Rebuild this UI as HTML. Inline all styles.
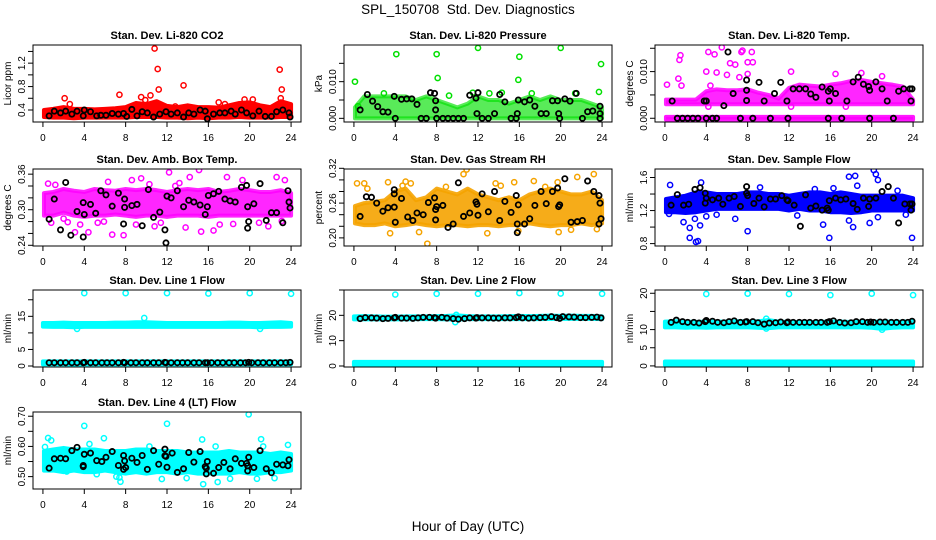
<!DOCTYPE html>
<html><head><meta charset="utf-8"><title>SPL_150708 Std. Dev. Diagnostics</title>
<style>
html,body{margin:0;padding:0;background:#fff;}
svg{display:block;font-family:"Liberation Sans",Arial,sans-serif;}
</style></head>
<body>
<svg id="chart" width="936" height="540" viewBox="0 0 936 540" xmlns="http://www.w3.org/2000/svg">
<rect width="936" height="540" fill="#fff"/>
<text x="468" y="14" font-size="13.5" text-anchor="middle">SPL_150708&#160; Std. Dev. Diagnostics</text>
<text x="468" y="531" font-size="13.5" text-anchor="middle">Hour of Day (UTC)</text>
</svg>
<script>
const hours=[0,1,2,3,4,5,6,7,8,9,10,11,12,13,14,15,16,17,18,19,20,21,22,23,24];
const xTicks=[0,4,8,12,16,20,24];

// CO2
const co2Lo=[0.28,0.27,0.27,0.26,0.27,0.27,0.27,0.27,0.27,0.28,0.28,0.28,0.27,0.27,0.26,0.27,0.26,0.27,0.27,0.28,0.27,0.27,0.27,0.28,0.28];
const co2Hi=[0.40,0.42,0.45,0.42,0.42,0.41,0.42,0.43,0.45,0.52,0.50,0.55,0.47,0.45,0.48,0.45,0.45,0.44,0.48,0.52,0.53,0.48,0.45,0.55,0.50];
const co2PtX=[2.1,2.6,7.4,9.5,10.4,10.8,11.1,11.2,13.6,17,17.6,20.3,22.9,23.1,23,19.5,9.9,12.8];
const co2PtY=[0.6,0.5,0.66,0.62,0.65,1.45,1.1,0.75,0.82,0.53,0.5,0.58,1.09,0.75,0.6,0.58,0.57,0.46];
const co2BlkX=[0.6,1.1,1.7,2.2,2.8,3.3,3.9,4.0,4.6,5.2,5.6,6.1,6.7,7.3,7.8,8.1,8.6,9.1,9.6,10.1,10.7,11.3,11.9,12.4,13.0,13.6,14.1,14.6,15.2,15.7,15.9,16.5,17.1,17.6,18.2,18.6,19.2,19.7,20.3,20.9,21.5,22.1,22.6,23.2,23.8,23.9];
const co2BlkY=[0.30,0.38,0.35,0.38,0.33,0.38,0.30,0.40,0.37,0.30,0.31,0.31,0.34,0.33,0.34,0.29,0.41,0.30,0.37,0.35,0.28,0.33,0.37,0.33,0.35,0.28,0.35,0.33,0.40,0.38,0.25,0.33,0.35,0.35,0.38,0.33,0.40,0.35,0.30,0.38,0.29,0.29,0.37,0.40,0.35,0.28];
const co2Ticks=[0.4,0.6,0.8,1.0,1.2,1.4];
const co2Labels=["0.4","","0.8","","1.2",""];

// Pressure
const presLo=[0,0,0,0,0,0,0,0,0,0,0,0,0,0,0,0,0,0,0,0,0,0,0,0,0];
const presHi=[0.003,0.006,0.006,0.006,0.006,0.006,0.005,0.006,0.005,0.004,0.003,0.004,0.006,0.005,0.005,0.004,0.005,0.006,0.005,0.006,0.005,0.005,0.005,0.004,0.003];
const presPtX=[0.1,4.1,8,8.1,12,16,15.9,20,23.9,23.7,14.3,11.5,0.4,2.9,9.2,13.1,17.2,21.4];
const presPtY=[0.010,0.0175,0.0175,0.011,0.0192,0.0168,0.0105,0.0192,0.0148,0.0072,0.007,0.007,0.0033,0.0068,0.0062,0.0068,0.0068,0.0068];
const presBlkX=[0.6,1.3,1.8,2.3,2.8,3.3,3.9,4,4.6,5.1,5.6,6.1,6.5,7,7.4,7.8,7.9,7.9,8,8.6,9.1,9.6,10.1,10.6,11.2,11.8,11.9,12,12.4,13,13.6,14.1,14.6,15.2,15.7,15.8,15.9,16.5,17,17.5,18.1,18.6,19.2,19.7,19.8,19.9,20.4,20.9,21.5,22.1,22.6,23.1,23.8,23.8,23.8];
const presBlkY=[0.0023,0.0065,0.0047,0.0032,0.0018,0.0017,0.006,0,0.0052,0.0053,0.0053,0.0038,0,0,0.007,0.0068,0.0048,0.0023,0,0,0,0,0,0,0.0063,0.0055,0.0013,0.007,0,0,0.0013,0.0065,0.0045,0,0,0.0013,0.005,0.0045,0.005,0.0033,0.0013,0.0013,0.0048,0.0048,0.0013,0,0.0053,0.0047,0.0068,0,0.0018,0.002,0.0033,0.0013,0];
const presTicks=[0,0.005,0.010,0.015];
const presLabels=["0.000","","0.010",""];

// Li-820 Temp
const tempLo=[0.003,0.003,0.003,0.003,0.003,0.003,0.003,0.003,0.003,0.003,0.003,0.003,0.003,0.003,0.003,0.003,0.003,0.003,0.003,0.003,0.003,0.003,0.003,0.003,0.003];
const tempHi=[0.004,0.004,0.004,0.004,0.0058,0.0062,0.006,0.006,0.0062,0.0055,0.005,0.0042,0.0065,0.0072,0.007,0.0068,0.0072,0.0075,0.008,0.0082,0.0078,0.0075,0.0072,0.0068,0.004];
const temp0Lo=[-0.0003,-0.0003,-0.0003,-0.0003,-0.0003,-0.0003,-0.0003,-0.0003,-0.0003,-0.0003,-0.0003,-0.0003,-0.0003,-0.0003,-0.0003,-0.0003,-0.0003,-0.0003,-0.0003,-0.0003,-0.0003,-0.0003,-0.0003,-0.0003,-0.0003];
const temp0Hi=[0.0003,0.0003,0.0003,0.0003,0.0003,0.0003,0.0003,0.0003,0.0003,0.0003,0.0003,0.0003,0.0003,0.0003,0.0003,0.0003,0.0003,0.0003,0.0003,0.0003,0.0003,0.0003,0.0003,0.0003,0.0003];
const tempPtX=[1.5,1.4,1.3,0.2,1.6,4.2,4.8,5.5,6.0,6.3,6.8,7.2,7.4,7.5,8.0,8.0,8.4,8.5,4.0,5.0,4.4,12.2,16.5,21,19,4.2,12.2,17.5];
const tempPtY=[0.0135,0.0125,0.0085,0.0072,0.007,0.0142,0.0137,0.0152,0.0093,0.0118,0.0115,0.0088,0.0142,0.0145,0.012,0.0095,0.0142,0.012,0.010,0.0098,0.007,0.010,0.0095,0.009,0.0097,0.0025,0.0025,0.0025];
const tempBlkX=[0.7,1.2,1.7,2.2,2.7,3.2,3.8,4.0,4.0,4.6,5.0,5.7,6.1,6.6,7.3,7.9,7.9,7.9,8.5,9.1,9.6,10.2,10.6,11.2,11.8,11.9,12.4,13,13.6,14.1,14.6,15.2,15.8,15.9,16,15.8,16.5,17.1,17.6,18.2,18.7,19.2,19.7,19.8,19.8,20.4,21,21.5,22.1,22.6,23.1,23.7,23.8,23.9];
const tempBlkY=[0.0037,0,0,0,0,0,0.0037,0.0037,0,0,0,0.0027,0.0142,0.0053,0,0.0082,0.006,0.0038,0,0.0077,0.0037,0,0.0053,0.0077,0.0037,0,0.0063,0.0063,0.0063,0.0052,0.0045,0.0067,0.0058,0.0037,0.0063,0,0.0053,0,0.0037,0.0078,0.0088,0.0073,0.0068,0.006,0,0.0078,0.0063,0.0037,0,0.0058,0.0063,0.0063,0.0037,0.0063];
const tempTicks=[0,0.005,0.010,0.015];
const tempLabels=["0.000","","0.010",""];

// Amb Box Temp
const ambLo=[0.29,0.29,0.295,0.29,0.288,0.29,0.29,0.292,0.29,0.288,0.29,0.29,0.288,0.29,0.29,0.29,0.288,0.29,0.29,0.29,0.29,0.29,0.29,0.29,0.29];
const ambHi=[0.328,0.33,0.335,0.332,0.33,0.335,0.333,0.332,0.335,0.333,0.335,0.333,0.33,0.333,0.335,0.333,0.335,0.33,0.332,0.335,0.333,0.33,0.33,0.333,0.328];
const ambPtX=[12.2,15.1,9.5,17.8,22.6,14.2,3.1,4.4,6.7,7.8,16.5,15.3,2.4,5.3,11.4,20.9,19.3,1.2,0.5,23.4,8.6,10.3,13.2,0.8,2.0,3.6,5.9,9.0,10.8,13.8,18.4,21.8,23.1,6.3,12.8,17.1];
const ambPtY=[0.363,0.367,0.353,0.355,0.355,0.355,0.262,0.262,0.258,0.257,0.265,0.263,0.279,0.278,0.278,0.278,0.35,0.342,0.344,0.35,0.35,0.343,0.345,0.278,0.285,0.275,0.28,0.275,0.272,0.27,0.276,0.272,0.281,0.347,0.34,0.275];
const ambBlkX=[0.6,1.1,1.7,2.2,2.7,3.3,3.9,3.9,4.0,4.6,5.1,5.6,6.1,6.7,7.3,7.8,7.9,7.9,8.6,9.1,9.6,10.2,10.7,11.3,11.8,11.9,12,12.4,13,13.6,14.1,14.6,15.2,15.7,15.9,16,16.5,17,17.6,18.1,18.6,19.2,19.7,19.8,19.8,19.9,20.4,21,21.6,22.1,22.6,23.2,23.7,23.8,23.9];
const ambBlkY=[0.284,0.318,0.266,0.346,0.257,0.297,0.254,0.312,0.292,0.309,0.294,0.332,0.325,0.306,0.328,0.276,0.318,0.304,0.307,0.309,0.273,0.334,0.287,0.296,0.266,0.244,0.323,0.320,0.332,0.305,0.316,0.313,0.308,0.292,0.305,0.324,0.327,0.331,0.318,0.315,0.313,0.338,0.341,0.305,0.269,0.280,0.310,0.344,0.282,0.295,0.295,0.278,0.332,0.313,0.303];
const ambTicks=[0.24,0.26,0.28,0.30,0.32,0.34,0.36];
const ambLabels=["0.24","","","0.30","","","0.36"];

// Gas stream RH
const rhLo=[0.225,0.222,0.222,0.225,0.22,0.222,0.225,0.222,0.22,0.222,0.222,0.22,0.222,0.222,0.22,0.222,0.222,0.225,0.222,0.22,0.222,0.222,0.225,0.222,0.225];
const rhHi=[0.255,0.26,0.262,0.265,0.28,0.285,0.265,0.27,0.285,0.28,0.275,0.285,0.275,0.27,0.265,0.27,0.265,0.275,0.28,0.285,0.28,0.275,0.275,0.28,0.265];
const rhPtX=[0.3,1.0,3.3,5.0,5.5,10.9,10.6,7.1,13.7,15.5,17.4,19.7,21.6,23.2,3.5,6.3,12.9,15.9,19.8,21.0,23.5,1.3,4.7,8.9,14.2,18.5];
const rhPtY=[0.294,0.294,0.296,0.297,0.294,0.318,0.31,0.19,0.294,0.296,0.298,0.296,0.305,0.31,0.208,0.21,0.208,0.212,0.21,0.214,0.215,0.285,0.29,0.288,0.29,0.288];
const rhBlkX=[0.6,1.2,1.7,2.2,2.8,3.3,3.9,3.9,3.9,4.0,4.6,5.2,5.7,6.1,6.7,7.2,7.8,7.9,7.9,8.0,8.6,9.1,9.6,10.1,10.6,11.2,11.8,11.9,12,12.4,13,13.6,14.1,14.6,15.2,15.7,15.8,15.8,15.9,16.5,17.0,17.5,18.1,18.6,19.2,19.7,19.8,19.9,20.4,21,21.6,22.1,22.6,23.2,23.7,23.7,23.8,23.9];
const rhBlkY=[0.237,0.271,0.270,0.260,0.246,0.252,0.283,0.276,0.253,0.227,0.268,0.236,0.230,0.243,0.240,0.261,0.269,0.249,0.231,0.254,0.256,0.218,0.224,0.295,0.237,0.243,0.262,0.258,0.239,0.276,0.245,0.280,0.230,0.263,0.244,0.273,0.224,0.209,0.257,0.224,0.233,0.256,0.280,0.259,0.280,0.286,0.254,0.257,0.302,0.227,0.228,0.230,0.298,0.280,0.224,0.273,0.260,0.233];
const rhTicks=[0.20,0.22,0.24,0.26,0.28,0.30,0.32];
const rhLabels=["0.20","","","0.26","","","0.32"];

// Sample flow
const sfLo=[1.18,1.18,1.17,1.18,1.2,1.22,1.22,1.22,1.22,1.22,1.22,1.22,1.2,1.22,1.2,1.2,1.18,1.18,1.17,1.18,1.2,1.2,1.2,1.2,1.2];
const sfHi=[1.34,1.36,1.38,1.42,1.42,1.4,1.4,1.4,1.42,1.42,1.4,1.4,1.38,1.4,1.42,1.42,1.4,1.42,1.4,1.38,1.38,1.38,1.38,1.38,1.35];
const sfPtX=[0.5,1.8,2.4,2.4,3.0,3.2,2.9,3.4,3.5,8.0,6.8,15.3,15.9,16.3,17.8,18.4,18.6,20.2,20.4,20.6,20.6,19.8,23.3,23.9,17.8,18.2,4.0,0.4,5.0,9.2,12.8,14.5,22.5];
const sfPtY=[1.51,1.06,0.99,0.87,0.82,0.83,1.10,1.02,1.54,0.95,1.10,1.03,0.87,1.47,1.61,1.62,1.5,1.69,1.64,1.57,1.12,1.05,1.15,0.87,1.08,1.0,1.13,1.16,1.15,1.48,1.14,1.46,1.44];
const sfBlkX=[0.6,1.2,1.8,2.3,2.9,3.4,3.9,3.9,4.0,4.6,5.2,5.6,6.2,6.7,7.3,7.9,7.9,8.0,8.6,9.1,9.6,10.2,10.7,11.3,11.8,11.9,12.5,13.1,13.6,14.1,14.6,15.2,15.7,15.8,15.9,16.5,17,17.5,18.2,18.6,19.2,19.7,19.8,20.4,21.0,21.6,22.1,22.6,23.2,23.7,23.8,23.9];
const sfBlkY=[1.265,1.393,1.265,1.277,1.456,1.476,1.41,1.29,1.35,1.33,1.35,1.277,1.35,1.37,1.25,1.49,1.41,1.38,1.285,1.35,1.245,1.34,1.34,1.38,1.33,1.32,1.265,1.01,1.39,1.23,1.255,1.205,1.23,1.205,1.32,1.35,1.33,1.34,1.285,1.215,1.35,1.25,1.34,1.35,1.43,1.49,1.35,1.05,1.28,1.28,1.205,1.28];
const sfTicks=[0.8,1.0,1.2,1.4,1.6];
const sfLabels=["0.8","","1.2","","1.6"];

// Line flows (shared black hours)
const lineBlkX=[0.6,1.1,1.7,2.2,2.8,3.3,3.9,4.0,4.6,5.1,5.7,6.2,6.7,7.3,7.8,7.9,8.5,9.0,9.6,10.1,10.7,11.2,11.8,11.9,12.4,13.0,13.5,14.0,14.6,15.1,15.7,15.9,16.3,16.9,17.4,18.0,18.5,19.1,19.6,19.9,20.2,20.8,21.3,21.9,22.4,23.0,23.5,23.9];

const l1Lo=[11.9,11.8,11.8,11.7,11.8,11.8,11.8,11.8,11.8,11.8,11.8,11.8,11.8,11.8,11.8,11.8,11.8,11.8,11.8,11.8,11.8,11.7,11.8,11.8,11.9];
const l1Hi=[13.0,13.0,13.1,13.0,13.0,13.0,13.0,13.1,13.1,13.2,13.2,13.1,13.0,13.0,13.0,13.0,13.0,13.0,13.1,13.1,13.0,13.0,13.1,13.2,13.0];
const l1BaseLo=[0.5,0.5,0.5,0.4,0.5,0.5,0.5,0.5,0.5,0.5,0.5,0.5,0.5,0.5,0.5,0.5,0.5,0.5,0.5,0.5,0.5,0.5,0.5,0.5,0.5];
const l1BaseHi=[1.4,1.4,1.4,1.4,1.4,1.4,1.4,1.4,1.4,1.4,1.4,1.4,1.4,1.4,1.4,1.4,1.4,1.4,1.4,1.4,1.4,1.4,1.4,1.4,1.4];
const l1PtX=[4,8,12,16,20,24,9.8,3.3,21];
const l1PtY=[22,22,22,21.9,22,21.8,14.5,11.2,11.2];
const l1BlkY=[1.0,1.0,1.0,1.0,1.0,1.0,1.0,1.1,1.0,1.0,1.0,1.0,1.0,1.0,1.1,1.0,1.0,1.0,1.0,1.0,1.0,1.0,1.1,1.0,1.0,1.0,1.0,1.0,1.0,1.0,1.0,1.0,1.0,1.0,1.0,1.0,1.0,1.0,1.0,1.1,1.0,1.0,1.0,1.0,1.0,1.0,1.0,1.1];
const l1Ticks=[0,5,10,15,20];
const l1Labels=["0","5","","15",""];

const l2Lo=[18.4,18.4,18.4,18.4,18.4,18.4,18.5,18.5,18.5,18.4,18.3,18.5,18.5,18.5,18.5,18.5,18.5,18.5,18.5,18.6,18.6,18.6,18.6,18.6,18.5];
const l2Hi=[19.6,19.7,19.6,19.5,19.5,19.6,19.6,19.6,19.7,19.8,20.0,19.7,19.6,19.6,19.6,19.7,19.8,19.7,19.8,19.9,19.8,19.9,19.8,19.8,19.6];
const l2BaseLo=[0.4,0.4,0.4,0.4,0.4,0.4,0.4,0.4,0.4,0.4,0.4,0.4,0.4,0.4,0.4,0.4,0.4,0.4,0.4,0.4,0.4,0.4,0.4,0.4,0.4];
const l2BaseHi=[1.6,1.6,1.6,1.6,1.6,1.6,1.6,1.6,1.6,1.6,1.6,1.6,1.6,1.6,1.6,1.6,1.6,1.6,1.6,1.6,1.6,1.6,1.6,1.6,1.6];
const l2PtX=[4,8,12,16,20,24,9.8,9.9];
const l2PtY=[28.2,28.5,28.5,28.8,28.6,28.5,17.3,20.2];
const l2BlkY=[18.7,19.1,19.0,18.9,18.7,18.8,19.0,19.2,18.9,18.9,18.8,19.0,19.2,19.2,19.1,18.9,19.2,18.9,18.7,18.5,18.7,19.0,18.9,19.1,19.0,19.0,18.9,18.9,19.0,19.0,19.1,19.4,19.0,18.9,19.0,19.1,19.2,19.5,19.1,18.8,19.5,19.4,19.3,19.1,19.1,19.2,19.3,19.0];
const l2Ticks=[0,10,20,30];
const l2Labels=["0","10","20",""];

const l3Lo=[10.6,10.6,10.5,10.6,10.5,10.6,10.6,10.6,10.6,10.5,10.4,10.6,10.6,10.6,10.6,10.6,10.6,10.6,10.6,10.6,10.5,10.2,10.5,10.6,10.6];
const l3Hi=[12.2,12.3,12.2,12.1,12.2,12.2,12.2,12.3,12.2,12.3,12.6,12.2,12.1,12.1,12.1,12.1,12.2,12.2,12.1,12.2,12.2,12.2,12.2,12.2,12.3];
const l3BaseLo=[0.3,0.3,0.3,0.3,0.3,0.3,0.3,0.3,0.3,0.3,0.3,0.3,0.3,0.3,0.3,0.3,0.3,0.3,0.3,0.3,0.3,0.3,0.3,0.3,0.3];
const l3BaseHi=[1.2,1.2,1.2,1.2,1.2,1.2,1.2,1.2,1.2,1.2,1.2,1.2,1.2,1.2,1.2,1.2,1.2,1.2,1.2,1.2,1.2,1.2,1.2,1.2,1.2];
const l3PtX=[4,8,12,16,20,24,9.8,21,9.8,3.2];
const l3PtY=[19.8,19.9,19.8,19.5,19.9,19.5,10.3,10.0,13.0,0.0];
const l3BlkY=[12.0,12.6,12.2,12.0,12.0,11.8,12.2,12.5,12.3,12.0,11.9,12.2,12.4,12.0,12.1,12.2,12.2,11.9,11.5,11.8,11.9,12.1,11.9,12.1,12.0,12.0,12.0,12.0,12.0,12.0,12.0,12.2,12.4,12.0,11.8,11.9,12.2,12.2,12.0,12.1,12.0,12.1,12.1,12.0,12.0,12.0,12.0,12.3];
const l3Ticks=[0,5,10,15,20];
const l3Labels=["0","5","10","","20"];

// Line 4 (LT)
const l4Lo=[0.52,0.52,0.515,0.52,0.515,0.515,0.52,0.515,0.51,0.515,0.51,0.515,0.515,0.51,0.515,0.51,0.51,0.51,0.51,0.515,0.51,0.51,0.515,0.515,0.52];
const l4Hi=[0.585,0.59,0.595,0.59,0.59,0.59,0.585,0.585,0.585,0.59,0.59,0.585,0.585,0.585,0.58,0.58,0.58,0.58,0.585,0.58,0.58,0.58,0.575,0.58,0.575];
const l4PtX=[0.5,0.8,4.0,4.5,5.9,12,15.4,19.9,21.1,23.7,7.1,7.5,7.4,11.5,15.5,16.9,20.7,22.4,13.9,2.3,5.2,18.1,0.2,10.3,16.7,21.3];
const l4PtY=[0.628,0.62,0.668,0.608,0.627,0.675,0.623,0.706,0.624,0.605,0.5,0.483,0.497,0.492,0.475,0.482,0.493,0.495,0.495,0.517,0.508,0.493,0.598,0.6,0.6,0.6];
const l4BlkX=[0.6,1.1,1.7,2.2,2.8,3.3,3.9,3.9,4.0,4.6,5.2,5.7,6.1,6.7,7.3,7.8,7.9,7.8,8,8.6,9.1,9.6,10.1,10.7,11.2,11.8,11.8,11.9,12,12.5,13,13.6,14.1,14.6,15.2,15.7,15.8,15.8,15.9,16.5,17,17.5,18.1,18.6,19.2,19.7,19.8,19.8,19.9,20.4,21,21.6,22.1,22.6,23.2,23.7,23.8];
const l4BlkY=[0.528,0.559,0.561,0.559,0.586,0.597,0.533,0.537,0.574,0.578,0.553,0.55,0.564,0.583,0.537,0.57,0.552,0.524,0.53,0.561,0.547,0.57,0.524,0.586,0.541,0.591,0.569,0.567,0.531,0.578,0.514,0.526,0.58,0.548,0.583,0.533,0.528,0.509,0.55,0.511,0.53,0.547,0.526,0.559,0.544,0.544,0.519,0.536,0.564,0.53,0.586,0.526,0.513,0.541,0.539,0.536,0.556];
const l4Ticks=[0.50,0.55,0.60,0.65,0.70];
const l4Labels=["0.50","","0.60","","0.70"];

const NS="http://www.w3.org/2000/svg";
const svg=document.getElementById('chart');
const colLeft=[33,344,655], rowTop=[45,169,290,412], PW=268, PH=77;

function mk(tag,attrs,parent){const e=document.createElementNS(NS,tag);for(const k in attrs)e.setAttribute(k,attrs[k]);(parent||svg).appendChild(e);return e;}

function drawPanel(p){
  const L=colLeft[p.col], T=rowTop[p.row];
  const g=mk('g',{});
  
  
  const xs=v=>L+(v+0.96)/25.92*PW;
  const ys=v=>T+PH-(v-p.ymin)/(p.ymax-p.ymin)*PH;
  const clip='clip-'+p.name;
  const cp=mk('clipPath',{id:clip},g);
  mk('rect',{x:L,y:T,width:PW,height:PH},cp);
  const dg=mk('g',{'clip-path':'url(#'+clip+')'},g);
  p.bands.forEach((b)=>{
    let pts=[];
    hours.forEach((h,i)=>pts.push(xs(Math.max(h,b.x0))+','+ys(b.hi[i])));
    for(let i=hours.length-1;i>=0;i--)pts.push(xs(Math.max(hours[i],b.x0))+','+ys(b.lo[i]));
    const poly=mk('polygon',{points:pts.join(' '),fill:p.color,stroke:p.color,'stroke-width':4,'stroke-linejoin':'round','fill-opacity':b.op||1,'stroke-opacity':b.op||1},dg);
    
    
  });
  p.ptX.forEach((x,i)=>{
    const c=mk('circle',{cx:xs(x),cy:ys(p.ptY[i]),r:2.6,fill:'none',stroke:p.color,'stroke-width':1.5},dg);
    
    
  });
  p.bX.forEach((x,i)=>{
    const c=mk('circle',{cx:xs(x),cy:ys(p.bY[i]),r:2.6,fill:'none',stroke:'#000','stroke-width':1.8},dg);
    
    
  });
  const fr=mk('rect',{x:L,y:T,width:PW,height:PH,fill:'none',stroke:'#000','stroke-width':1},g);
  
  
  xTicks.forEach(t=>{
    mk('line',{x1:xs(t),x2:xs(t),y1:T+PH,y2:T+PH+5,stroke:'#000'},g);
    const tx=mk('text',{x:xs(t),y:T+PH+19,'font-size':10,'text-anchor':'middle'},g);
    tx.textContent=t;
    
    
  });
  mk('line',{x1:L,x2:L,y1:ys(p.ticks[0]),y2:ys(p.ticks[p.ticks.length-1]),stroke:'#000'},g);
  p.ticks.forEach((t,i)=>{
    const y=ys(t);
    mk('line',{x1:L-5,x2:L,y1:y,y2:y,stroke:'#000'},g);
    if(p.labels[i]){
      const tx=mk('text',{x:L-8,y:y,'font-size':10,'text-anchor':'middle',transform:'rotate(-90 '+(L-8)+' '+y+')'},g);
      tx.textContent=p.labels[i];
      
      
    }
  });
  const yc=T+PH/2;
  const yt=mk('text',{x:L-22,y:yc,'font-size':10,'text-anchor':'middle',transform:'rotate(-90 '+(L-22)+' '+yc+')'},g);
  yt.textContent=p.unit;
  
  
  const tt=mk('text',{x:L+PW/2,y:T-6,'font-size':11,'font-weight':'bold','text-anchor':'middle'},g);
  tt.textContent=p.title;
  
  
}

const panels=[
 {name:'panel-co2',col:0,row:0,title:'Stan. Dev. Li-820 CO2',unit:'Licor ppm',color:'#ff0000',ymin:0.195,ymax:1.51,ticks:co2Ticks,labels:co2Labels,
  bands:[{lo:co2Lo,hi:co2Hi,x0:0.1}],ptX:co2PtX,ptY:co2PtY,bX:co2BlkX,bY:co2BlkY},
 {name:'panel-pressure',col:1,row:0,title:'Stan. Dev. Li-820 Pressure',unit:'kPa',color:'#00e000',ymin:-0.001,ymax:0.02,ticks:presTicks,labels:presLabels,
  bands:[{lo:presLo,hi:presHi,x0:0.1,op:0.65}],ptX:presPtX,ptY:presPtY,bX:presBlkX,bY:presBlkY},
 {name:'panel-li820-temp',col:2,row:0,title:'Stan. Dev. Li-820 Temp.',unit:'degrees C',color:'#ff00ff',ymin:-0.0008,ymax:0.0157,ticks:tempTicks,labels:tempLabels,
  bands:[{lo:tempLo,hi:tempHi,x0:0.1,op:0.85},{lo:temp0Lo,hi:temp0Hi,x0:0.1,op:0.9}],ptX:tempPtX,ptY:tempPtY,bX:tempBlkX,bY:tempBlkY},
 {name:'panel-amb-box-temp',col:0,row:1,title:'Stan. Dev. Amb. Box Temp.',unit:'degrees C',color:'#ff00ff',ymin:0.2388,ymax:0.3687,ticks:ambTicks,labels:ambLabels,
  bands:[{lo:ambLo,hi:ambHi,x0:0.1,op:0.85}],ptX:ambPtX,ptY:ambPtY,bX:ambBlkX,bY:ambBlkY},
 {name:'panel-gas-stream-rh',col:1,row:1,title:'Stan. Dev. Gas Stream RH',unit:'percent',color:'#f5a300',ymin:0.186,ymax:0.3188,ticks:rhTicks,labels:rhLabels,
  bands:[{lo:rhLo,hi:rhHi,x0:0.1,op:0.9}],ptX:rhPtX,ptY:rhPtY,bX:rhBlkX,bY:rhBlkY},
 {name:'panel-sample-flow',col:2,row:1,title:'Stan. Dev. Sample Flow',unit:'ml/min',color:'#0000ff',ymin:0.771,ymax:1.703,ticks:sfTicks,labels:sfLabels,
  bands:[{lo:sfLo,hi:sfHi,x0:0.1}],ptX:sfPtX,ptY:sfPtY,bX:sfBlkX,bY:sfBlkY},
 {name:'panel-line1-flow',col:0,row:2,title:'Stan. Dev. Line 1 Flow',unit:'ml/min',color:'#00ffff',ymin:-0.3,ymax:22.95,ticks:l1Ticks,labels:l1Labels,
  bands:[{lo:l1Lo,hi:l1Hi,x0:0},{lo:l1BaseLo,hi:l1BaseHi,x0:0}],ptX:l1PtX,ptY:l1PtY,bX:lineBlkX,bY:l1BlkY},
 {name:'panel-line2-flow',col:1,row:2,title:'Stan. Dev. Line 2 Flow',unit:'ml/min',color:'#00ffff',ymin:-0.4,ymax:30,ticks:l2Ticks,labels:l2Labels,
  bands:[{lo:l2Lo,hi:l2Hi,x0:0},{lo:l2BaseLo,hi:l2BaseHi,x0:0}],ptX:l2PtX,ptY:l2PtY,bX:lineBlkX,bY:l2BlkY},
 {name:'panel-line3-flow',col:2,row:2,title:'Stan. Dev. Line 3 Flow',unit:'ml/min',color:'#00ffff',ymin:-0.3,ymax:20.9,ticks:l3Ticks,labels:l3Labels,
  bands:[{lo:l3Lo,hi:l3Hi,x0:0},{lo:l3BaseLo,hi:l3BaseHi,x0:0}],ptX:l3PtX,ptY:l3PtY,bX:lineBlkX,bY:l3BlkY},
 {name:'panel-line4-flow',col:0,row:3,title:'Stan. Dev. Line 4 (LT) Flow',unit:'ml/min',color:'#00ffff',ymin:0.459,ymax:0.714,ticks:l4Ticks,labels:l4Labels,
  bands:[{lo:l4Lo,hi:l4Hi,x0:0.1}],ptX:l4PtX,ptY:l4PtY,bX:l4BlkX,bY:l4BlkY}
];
panels.forEach(drawPanel);
</script>
</body></html>
